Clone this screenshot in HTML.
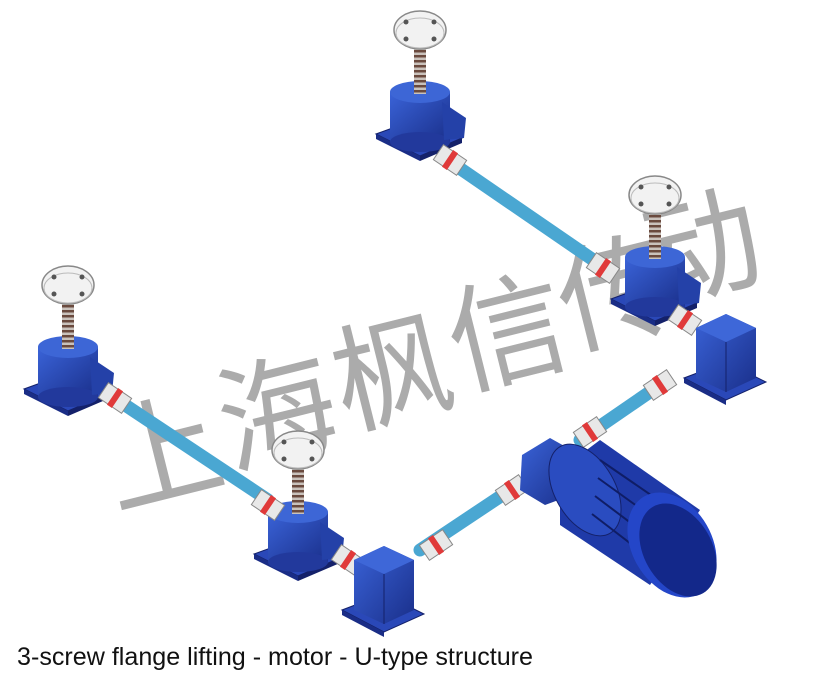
<!DOCTYPE html>
<html><head><meta charset="utf-8"><style>
html,body{margin:0;padding:0;background:#fff;}
svg{display:block;}
</style></head><body>
<svg width="828" height="689" viewBox="0 0 828 689" xmlns="http://www.w3.org/2000/svg">
<defs>
<linearGradient id="blue" x1="0" y1="0" x2="1" y2="1">
<stop offset="0" stop-color="#3a63d8"/><stop offset="1" stop-color="#1a2f8a"/></linearGradient>
<pattern id="thread" width="12" height="5" patternUnits="userSpaceOnUse">
<rect width="12" height="5" fill="#c9c2bc"/><rect width="12" height="2.5" fill="#6a4a3e"/></pattern>
<g id="jack">
<rect x="-6" y="12" width="12" height="66" fill="url(#thread)"/>
<polygon points="-44,104 0,126 42,108 0,88" fill="#2a48b8" stroke="#14216a" stroke-width="1"/>
<polygon points="-44,104 0,126 0,131 -44,109" fill="#1a2d86"/>
<polygon points="0,126 42,108 42,113 0,131" fill="#14216a"/>
<rect x="-30" y="62" width="60" height="50" fill="url(#blue)"/>
<ellipse cx="0" cy="112" rx="30" ry="10" fill="#22399c"/>
<ellipse cx="0" cy="62" rx="30" ry="11" fill="#3d66d6"/>
<rect x="-6" y="40" width="12" height="24" fill="url(#thread)"/>
<polygon points="22,72 46,88 44,108 24,110" fill="#2441a8"/>
<ellipse cx="0" cy="0" rx="26" ry="19" fill="#f2f2f2" stroke="#888" stroke-width="1.5"/>
<ellipse cx="0" cy="3" rx="24" ry="15" fill="none" stroke="#bbb" stroke-width="1"/>
<circle cx="-14" cy="-8" r="2.5" fill="#555"/><circle cx="14" cy="-8" r="2.5" fill="#555"/>
<circle cx="-14" cy="9" r="2.5" fill="#555"/><circle cx="14" cy="9" r="2.5" fill="#555"/>
</g>
<g id="cpl">
<rect x="-14" y="-9" width="28" height="18" fill="#e8e8e8" stroke="#888"/>
<rect x="-3" y="-10" width="6" height="20" fill="#e03a3a"/>
</g>
<g id="gbox">
<polygon points="-42,40 0,62 40,44 0,24" fill="#2a48b8" stroke="#14216a"/>
<polygon points="-42,40 0,62 0,67 -42,45" fill="#1a2d86"/>
<polygon points="-30,-10 0,-24 30,-10 30,40 0,54 -30,40" fill="url(#blue)"/>
<polygon points="-30,-10 0,-24 30,-10 0,4" fill="#3e67d8"/>
<line x1="0" y1="4" x2="0" y2="54" stroke="#14216a"/>
</g>
</defs>

<!-- watermark -->
<g fill="#a3a3a3" font-family="'Liberation Sans','Noto Sans CJK SC',sans-serif" font-size="118" opacity="0.9">
<text x="100" y="495" transform="rotate(-14 160 440)">上</text>
<text x="215" y="455" transform="rotate(-14 275 400)">海</text>
<text x="330" y="415" transform="rotate(-14 390 360)">枫</text>
<text x="445" y="375" transform="rotate(-14 505 320)">信</text>
<text x="555" y="335" transform="rotate(-14 615 280)">传</text>
<text x="640" y="290" transform="rotate(-14 700 240)">动</text>
</g>

<!-- shafts -->
<g stroke="#4aa7d2" stroke-width="13" stroke-linecap="round">
<line x1="455" y1="165" x2="605" y2="268"/>
<line x1="110" y1="395" x2="268" y2="500"/>
<line x1="660" y1="385" x2="580" y2="440"/>
<line x1="510" y1="490" x2="420" y2="550"/>
</g>

<use href="#jack" x="420" y="30"/>
<use href="#jack" x="655" y="195"/>
<use href="#jack" x="68" y="285"/>
<use href="#jack" x="298" y="450"/>

<use href="#cpl" transform="translate(450,160) rotate(34)"/>
<use href="#cpl" transform="translate(603,268) rotate(34)"/>
<use href="#cpl" transform="translate(115,398) rotate(34)"/>
<use href="#cpl" transform="translate(268,505) rotate(34)"/>
<use href="#cpl" transform="translate(348,560) rotate(34)"/>
<use href="#cpl" transform="translate(685,320) rotate(34)"/>
<use href="#cpl" transform="translate(660,385) rotate(-34)"/>
<use href="#cpl" transform="translate(590,432) rotate(-34)"/>
<use href="#cpl" transform="translate(512,490) rotate(-34)"/>
<use href="#cpl" transform="translate(436,545) rotate(-34)"/>

<use href="#gbox" x="726" y="338"/>
<use href="#gbox" x="384" y="570"/>

<!-- motor -->
<polygon points="522,455 550,438 575,452 572,495 545,505 520,490" fill="url(#blue)"/>
<polygon points="560,470 600,440 700,510 650,585 560,525" fill="#1f3aa8"/>
<ellipse cx="585" cy="490" rx="30" ry="50" transform="rotate(-30 585 490)" fill="#2a4cc0" stroke="#14216a"/>
<g stroke="#0f1d66" stroke-width="2">
<line x1="600" y1="460" x2="680" y2="515"/><line x1="598" y1="478" x2="670" y2="530"/>
<line x1="595" y1="496" x2="660" y2="545"/><line x1="592" y1="514" x2="652" y2="560"/>
</g>
<ellipse cx="672" cy="545" rx="40" ry="56" transform="rotate(-30 672 545)" fill="#2446c8"/>
<ellipse cx="678" cy="550" rx="34" ry="50" transform="rotate(-30 678 550)" fill="#13288a"/>

<text x="17" y="665" font-family="'Liberation Sans',sans-serif" font-size="25" fill="#111" textLength="516" lengthAdjust="spacingAndGlyphs">3-screw flange lifting - motor - U-type structure</text>
</svg>
</body></html>
